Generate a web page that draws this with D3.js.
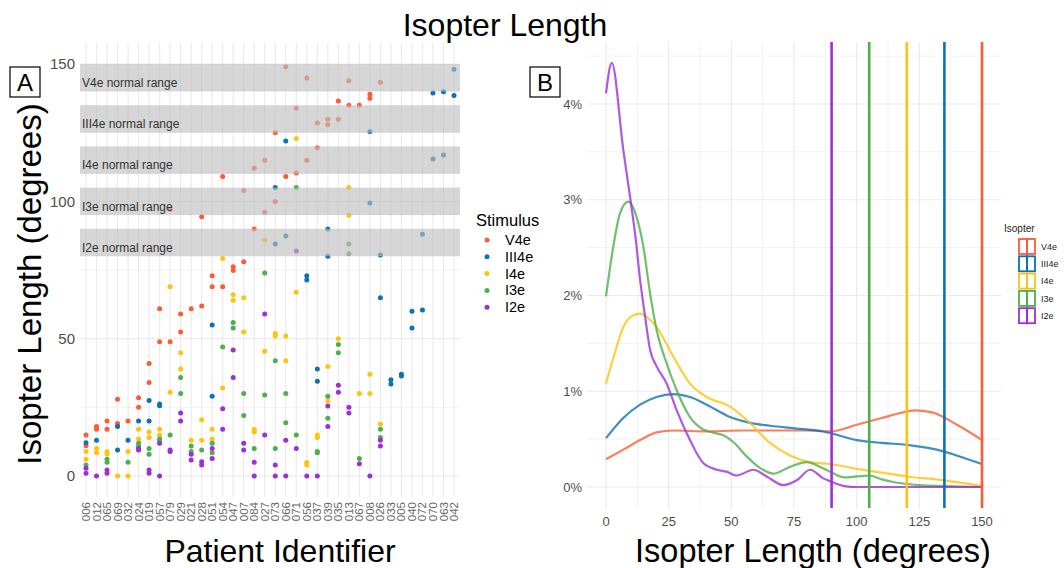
<!DOCTYPE html>
<html><head><meta charset="utf-8">
<script src="https://cdn.jsdelivr.net/npm/d3@7"></script>
<style>
body{margin:0;background:#fff}
svg{font-family:"Liberation Sans",Arial,Helvetica,sans-serif}
</style>
</head><body>
<svg id="chart" width="1064" height="568"></svg>
<script>
// ---- data ----
const patients = ["006","012","065","069","032","024","019","057","079","029","021","028",
  "051","054","047","007","084","027","073","066","071","056","037","039","035","013",
  "067","008","026","033","005","040","072","070","063","042"];
const stimuli = ["V4e","III4e","I4e","I3e","I2e"];
const stimulusColors = ["#FF5A36","#0B72B5","#FFC20E","#4DAF4A","#9B30D9"];

// isopter length per patient (both eyes), degrees
const v4e = [["006",14.9],["006",11.0],["012",18.0],["012",17.0],["065",20.0],["065",17.0],
  ["069",27.9],["069",19.1],["032",20.0],["024",28.5],["024",25.0],["019",41.0],["019",34.0],
  ["057",60.9],["057",48.9],["079",97.1],["079",48.9],["029",59.0],["029",52.4],["021",60.9],
  ["028",94.4],["028",61.9],["051",72.9],["051",68.9],["054",109.0],["054",68.9],["047",76.2],
  ["047",74.8],["007",103.9],["007",78.0],["084",112.0],["084",89.9],["027",115.0],["027",96.0],
  ["073",125.0],["073",99.9],["066",149.0],["066",109.0],["071",133.9],["071",110.3],
  ["056",144.9],["056",115.0],["037",128.5],["037",119.5],["039",129.9],["039",127.9],
  ["035",136.5],["035",129.9],["013",143.9],["013",135.0],["067",135.0],["008",139.0],
  ["008",137.5],["026",143.4]];
const iii4e = [["006",12.1],["012",13.0],["069",18.0],["069",9.5],["032",13.0],["024",20.0],
  ["019",27.5],["019",20.0],["057",26.2],["057",25.6],["051",55.0],["051",29.0],["073",105.0],
  ["073",84.5],["066",122.0],["066",87.4],["056",72.9],["056",71.4],["037",39.0],["037",34.5],
  ["039",89.9],["039",80.0],["008",125.4],["008",99.4],["026",80.5],["026",64.9],["033",35.0],
  ["033",33.5],["005",37.0],["005",36.4],["040",60.0],["040",53.9],["072",88.0],["072",60.4],
  ["070",139.4],["070",115.4],["063",139.9],["063",116.9],["042",148.1],["042",138.5]];
const i4e = [["006",8.9],["006",6.1],["012",10.0],["012",8.5],["065",8.9],["065",8.0],["069",0],
  ["032",8.9],["032",0],["024",17.0],["024",13.5],["019",16.0],["019",14.0],["057",17.0],
  ["057",14.9],["079",68.9],["079",30.5],["029",44.9],["029",39.0],["021",13.0],["028",20.5],
  ["028",13.0],["051",17.0],["051",13.5],["054",79.2],["054",32.0],["047",66.0],["047",64.0],
  ["007",64.9],["007",52.4],["084",17.0],["084",16.0],["027",85.9],["027",45.4],["073",51.9],
  ["073",51.0],["066",51.0],["066",42.0],["071",122.9],["071",66.9],["056",4.9],["056",4.0],
  ["037",14.9],["037",14.0],["039",39.9],["039",27.4],["035",50.0],["013",105.0],["013",94.9],
  ["067",30.0],["008",37.0],["008",30.0],["026",18.9]];
const i3e = [["006",4.0],["065",6.1],["065",5.0],["032",5.0],["024",11.9],["024",10.7],
  ["019",10.0],["019",7.9],["057",13.5],["057",12.9],["079",14.9],["029",35.9],["029",30.0],
  ["021",10.9],["021",8.9],["028",9.5],["051",11.9],["051",8.5],["054",47.0],["047",55.9],
  ["047",53.9],["007",30.0],["007",22.0],["084",10.0],["027",73.9],["027",29.5],["073",42.0],
  ["073",10.0],["066",30.0],["066",19.4],["071",105.0],["071",14.9],["037",8.9],["037",8.5],
  ["039",29.0],["039",21.0],["035",47.9],["035",44.9],["013",84.5],["013",80.9],["067",6.4],
  ["026",17.0],["026",14.0]];
const i2e = [["006",2.8],["006",1.0],["012",0],["065",2.2],["065",1.0],["024",10.0],["024",9.5],
  ["019",2.2],["019",1.0],["057",11.9],["057",0],["079",9.5],["079",8.9],["029",22.9],
  ["029",20.0],["021",7.9],["021",5.8],["028",5.2],["028",4.0],["051",10.0],["051",6.4],
  ["054",24.5],["054",17.0],["047",45.9],["047",35.9],["007",11.9],["007",9.5],["084",5.0],
  ["084",0],["027",59.0],["027",14.9],["073",4.0],["073",0],["066",13.0],["066",0],
  ["071",81.9],["071",10.0],["056",0],["037",0],["039",25.5],["039",18.0],["035",33.0],
  ["035",30.5],["013",25.0],["013",22.9],["067",4.5],["008",0],["026",13.0],["026",10.9]];

const normalRanges = [[140,150],[125,135],[110,120],[95,105],[80,90]];
const normalLabels = ["V4e normal range","III4e normal range","I4e normal range",
  "I3e normal range","I2e normal range"];
const yTicksA = [0,50,100,150];
const yMinorA = [25,75,125];

// density of isopter length, [degrees, percent]
const densV4e = [[0,0.29],[6.9,0.39],[13.6,0.49],[20.2,0.57],[26.9,0.59],[40.2,0.58],[53.5,0.59],
  [66.7,0.59],[80,0.59],[89.4,0.58],[100,0.65],[110,0.72],[117,0.77],[123,0.80],[130,0.78],
  [140,0.65],[150,0.49]];
const densIII4e = [[0,0.51],[6.9,0.72],[13.6,0.86],[20.2,0.94],[26.9,0.97],[33.5,0.94],
  [40.2,0.86],[49.5,0.73],[57.4,0.67],[65.4,0.64],[76.1,0.61],[86.7,0.58],[100,0.49],
  [110,0.46],[120,0.44],[135,0.37],[142,0.31],[150,0.24]];
const densI4e = [[0,1.08],[3.5,1.40],[6.9,1.67],[10,1.78],[13.6,1.81],[17,1.76],[20.2,1.67],
  [26.9,1.36],[33.5,1.08],[40.2,0.94],[49.5,0.84],[57.4,0.67],[65.4,0.46],[73.4,0.33],
  [81.4,0.26],[89.4,0.24],[100,0.19],[110,0.15],[120,0.11],[135,0.07],[150,0.01]];
const densI3e = [[0,1.99],[2.9,2.51],[5.5,2.85],[8.9,2.98],[12.2,2.82],[14.9,2.51],[17.6,2.02],
  [20.2,1.64],[24.2,1.29],[28.2,1.01],[33.5,0.73],[38.8,0.60],[42.5,0.57],[46.8,0.54],
  [50.8,0.47],[56.1,0.32],[61.4,0.20],[66.7,0.14],[73.4,0.21],[80.1,0.26],[85.4,0.21],
  [89.4,0.16],[95,0.10],[100,0.11],[105,0.12],[110,0.08],[115,0.05],[125,0.02],[135,0.01],[150,0]];
const densI2e = [[0,4.11],[2.3,4.43],[6.9,3.52],[9.6,3.03],[12.2,2.51],[13.3,2.23],[15.6,1.78],
  [17.6,1.43],[20.2,1.26],[24.2,1.08],[28.2,0.80],[33.5,0.49],[38.8,0.25],[44.2,0.18],
  [48.1,0.16],[52.1,0.12],[58.8,0.18],[64.1,0.11],[70.7,0.02],[76.1,0.07],[81.4,0.18],
  [86.7,0.09],[89.4,0.06],[95,0.01],[100,0],[125,0],[150,0]];
const upperLimits = [150,135,120,105,90];
const xTicksB = [0,25,50,75,100,125,150];
const xMinorB = [12.5,37.5,62.5,87.5,112.5,137.5];
const yTicksB = [0,1,2,3,4];
const yMinorB = [0.5,1.5,2.5,3.5,4.5];

// ---- drawing ----
const svg = d3.select("#chart");
const grid = "#ebebeb", tickText = "#4d4d4d";

svg.append("text").attr("x",505).attr("y",36).attr("text-anchor","middle")
  .attr("font-size",32).attr("fill","#000").text("Isopter Length");

// Panel A
const A = {l:80, r:460, t:43, b:497};
const xA = d3.scalePoint().domain(patients).range([86,454]);
const yA = d3.scaleLinear().domain([0,150]).range([476,64]);
const color = d3.scaleOrdinal().domain(stimuli).range(stimulusColors);
const gA = svg.append("g");

gA.selectAll(".hminA").data(yMinorA).join("line")
  .attr("x1",A.l).attr("x2",A.r).attr("y1",d=>yA(d)).attr("y2",d=>yA(d))
  .attr("stroke",grid).attr("stroke-width",0.6);
gA.selectAll(".hmajA").data(yTicksA).join("line")
  .attr("x1",A.l).attr("x2",A.r).attr("y1",d=>yA(d)).attr("y2",d=>yA(d))
  .attr("stroke",grid).attr("stroke-width",1.2);
gA.selectAll(".vA").data(patients).join("line")
  .attr("x1",d=>xA(d)).attr("x2",d=>xA(d)).attr("y1",A.t).attr("y2",A.b)
  .attr("stroke",grid).attr("stroke-width",1.2);

const seriesA = [v4e, iii4e, i4e, i3e, i2e];
seriesA.forEach((s,k)=>{
  gA.append("g").selectAll("circle").data(s).join("circle")
    .attr("cx",d=>xA(d[0])).attr("cy",d=>yA(d[1])).attr("r",2.5)
    .attr("fill",stimulusColors[k]);
});

// normal ranges drawn over the points
gA.selectAll(".band").data(normalRanges).join("rect")
  .attr("x",A.l).attr("width",A.r-A.l)
  .attr("y",d=>yA(d[1])).attr("height",d=>yA(d[0])-yA(d[1]))
  .attr("fill","#bebebe").attr("fill-opacity",0.63);
gA.selectAll(".bandLabel").data(normalRanges).join("text")
  .attr("x",A.l+2).attr("y",d=>yA(d[0])-4.5)
  .attr("font-size",12).attr("fill","#333").text((d,i)=>normalLabels[i]);

gA.selectAll(".ytA").data(yTicksA).join("text")
  .attr("x",75).attr("y",d=>yA(d)).attr("dy","0.35em").attr("text-anchor","end")
  .attr("font-size",15).attr("fill",tickText).text(d=>d);
gA.selectAll(".xtA").data(patients).join("text")
  .attr("transform",d=>`translate(${xA(d)},502) rotate(-90)`)
  .attr("text-anchor","end").attr("dy","0.35em")
  .attr("font-size",11.5).attr("fill","#666").text(d=>d);

svg.append("text").attr("transform","translate(29,284) rotate(-90)")
  .attr("text-anchor","middle").attr("dy","0.35em").attr("font-size",33).text("Isopter Length (degrees)");
svg.append("text").attr("x",280).attr("y",562).attr("text-anchor","middle")
  .attr("font-size",32).text("Patient Identifier");

// Legend A
const legA = svg.append("g");
legA.append("text").attr("x",476).attr("y",226).attr("font-size",16.5).text("Stimulus");
stimuli.forEach((s,i)=>{
  const cy = 240 + i*16.8;
  legA.append("circle").attr("cx",487).attr("cy",cy).attr("r",2.5).attr("fill",color(s));
  legA.append("text").attr("x",505).attr("y",cy).attr("dy","0.35em").attr("font-size",14.5).text(s);
});

// Panel B
const B = {l:587, r:1001, t:42, b:508};
const xB = d3.scaleLinear().domain([0,150]).range([606,982]);
const yB = d3.scaleLinear().domain([0,4]).range([487,104]);
const gB = svg.append("g");
gB.selectAll(".vminB").data(xMinorB).join("line")
  .attr("x1",d=>xB(d)).attr("x2",d=>xB(d)).attr("y1",B.t).attr("y2",B.b)
  .attr("stroke",grid).attr("stroke-width",0.6);
gB.selectAll(".hminB").data(yMinorB).join("line")
  .attr("x1",B.l).attr("x2",B.r).attr("y1",d=>yB(d)).attr("y2",d=>yB(d))
  .attr("stroke",grid).attr("stroke-width",0.6);
gB.selectAll(".vmajB").data(xTicksB).join("line")
  .attr("x1",d=>xB(d)).attr("x2",d=>xB(d)).attr("y1",B.t).attr("y2",B.b)
  .attr("stroke",grid).attr("stroke-width",1.2);
gB.selectAll(".hmajB").data(yTicksB).join("line")
  .attr("x1",B.l).attr("x2",B.r).attr("y1",d=>yB(d)).attr("y2",d=>yB(d))
  .attr("stroke",grid).attr("stroke-width",1.2);

const densities = [densV4e, densIII4e, densI4e, densI3e, densI2e];
const line = d3.line().x(d=>xB(d[0])).y(d=>yB(d[1])).curve(d3.curveMonotoneX);
densities.forEach((s,k)=>{
  gB.append("path").datum(s).attr("d",line).attr("fill","none")
    .attr("stroke",stimulusColors[k]).attr("stroke-opacity",0.8).attr("stroke-width",2.2);
});
gB.selectAll(".vline").data(upperLimits).join("line")
  .attr("x1",d=>xB(d)).attr("x2",d=>xB(d)).attr("y1",B.t).attr("y2",B.b)
  .attr("stroke",(d,i)=>stimulusColors[i]).attr("stroke-width",2.6);

gB.selectAll(".xtB").data(xTicksB).join("text")
  .attr("x",d=>xB(d)).attr("y",521).attr("dy","0.35em").attr("text-anchor","middle")
  .attr("font-size",13).attr("fill",tickText).text(d=>d);
gB.selectAll(".ytB").data(yTicksB).join("text")
  .attr("x",582).attr("y",d=>yB(d)).attr("dy","0.35em").attr("text-anchor","end")
  .attr("font-size",13).attr("fill",tickText).text(d=>d+"%");
svg.append("text").attr("x",813).attr("y",562).attr("text-anchor","middle")
  .attr("font-size",32.5).text("Isopter Length (degrees)");

// Legend B
const legB = svg.append("g");
legB.append("text").attr("x",1004).attr("y",232).attr("font-size",10).attr("fill","#222").text("Isopter");
stimuli.forEach((s,i)=>{
  const top = 238 + i*17.3;
  legB.append("rect").attr("x",1019).attr("y",top+1).attr("width",16).attr("height",15)
    .attr("fill","#fff").attr("stroke",color(s)).attr("stroke-width",1.8);
  legB.append("line").attr("x1",1027).attr("x2",1027).attr("y1",top).attr("y2",top+17)
    .attr("stroke",color(s)).attr("stroke-width",2);
  legB.append("text").attr("x",1041).attr("y",top+8.5).attr("dy","0.35em")
    .attr("font-size",9).attr("fill","#222").text(s);
});

// Panel tags
[["A",10],["B",530]].forEach(([t,x])=>{
  svg.append("rect").attr("x",x).attr("y",67).attr("width",30).attr("height",30)
    .attr("fill","#fff").attr("stroke","#000").attr("stroke-width",1.2);
  svg.append("text").attr("x",x+15).attr("y",82).attr("dy","0.36em").attr("text-anchor","middle")
    .attr("font-size",24).text(t);
});
</script>
</body></html>
